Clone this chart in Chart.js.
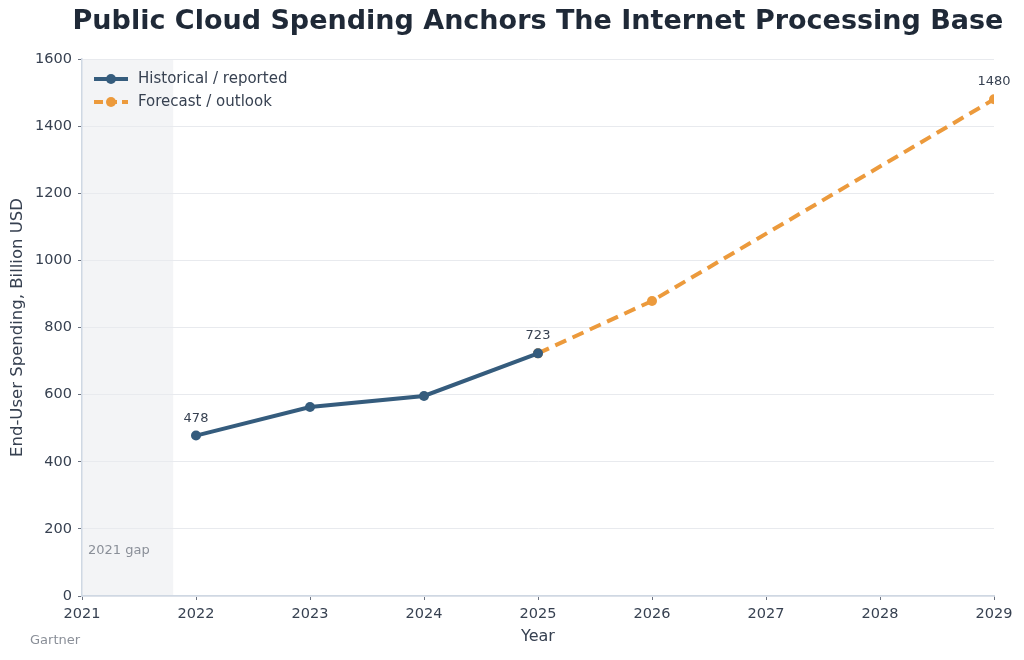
<!DOCTYPE html>
<html><head><meta charset="utf-8">
<script src="https://cdn.jsdelivr.net/npm/chart.js@4.4.1/dist/chart.umd.min.js"></script>
<style>html,body{margin:0;padding:0;background:#fff}#wrap{width:1024px;height:660px}</style>
</head><body><div id="wrap"><canvas id="c" width="1024" height="660"></canvas></div>
<script>
const histYears = [2022, 2023, 2024, 2025];
const histValues = [478, 563, 596, 723];
const fcYears = [2025, 2026, 2029];
const fcValues = [723, 879, 1480];
const labelledYears = [2022, 2025, 2029];
const xTicks = [2021, 2022, 2023, 2024, 2025, 2026, 2027, 2028, 2029];
const gapStart = 2021, gapEnd = 2021.8;
const FONT = "'DejaVu Sans', sans-serif";

const extras = {
  id: 'extras',
  beforeDraw(chart) {
    const {ctx, chartArea: a, scales: {x, y}} = chart;
    ctx.save();
    ctx.fillStyle = '#f3f4f6';
    const x0 = x.getPixelForValue(gapStart), x1 = x.getPixelForValue(gapEnd);
    ctx.fillRect(x0, a.top, x1 - x0, a.bottom - a.top);
    ctx.restore();
  },
  beforeDatasetsDraw(chart) {
    const {ctx, scales: {x, y}} = chart;
    ctx.save();
    ctx.fillStyle = '#8a8f98';
    ctx.font = '13px ' + FONT;
    ctx.textBaseline = 'middle';
    ctx.fillText('2021 gap', x.getPixelForValue(gapStart) + 6, y.getPixelForValue(135));
    ctx.restore();
  },
  afterDraw(chart) {
    const {ctx, chartArea: a, scales: {x, y}} = chart;
    ctx.save();
    ctx.fillStyle = '#1f2937';
    ctx.font = 'bold 27px ' + FONT;
    ctx.textAlign = 'center';
    ctx.textBaseline = 'middle';
    ctx.fillText('Public Cloud Spending Anchors The Internet Processing Base', 538, 22);
    ctx.font = '13px ' + FONT;
    ctx.fillStyle = '#374151';
    ctx.textBaseline = 'alphabetic';
    const all = histYears.map((yr, i) => [yr, histValues[i]]).concat(fcYears.map((yr, i) => [yr, fcValues[i]]));
    labelledYears.forEach(yr => {
      const p = all.find(d => d[0] === yr);
      ctx.fillText(String(p[1]), x.getPixelForValue(yr), y.getPixelForValue(p[1]) - 14);
    });
    ctx.textAlign = 'left';
    ctx.fillStyle = '#8a8f98';
    ctx.font = '13px ' + FONT;
    ctx.textBaseline = 'middle';
    ctx.fillText('Gartner', 30, 641);
    const lx = a.left + 12, ly = a.top + 20;
    const items = [
      {t: 'Historical / reported', c: '#355c7d', dash: []},
      {t: 'Forecast / outlook', c: '#ec9a3c', dash: [9, 5]}
    ];
    items.forEach((it, i) => {
      const yy = ly + i * 23;
      ctx.strokeStyle = it.c; ctx.lineWidth = 4; ctx.setLineDash(it.dash);
      ctx.beginPath(); ctx.moveTo(lx, yy); ctx.lineTo(lx + 34, yy); ctx.stroke();
      ctx.setLineDash([]);
      ctx.fillStyle = it.c;
      ctx.beginPath(); ctx.arc(lx + 17, yy, 5, 0, Math.PI * 2); ctx.fill();
      ctx.fillStyle = '#374151';
      ctx.font = '15px ' + FONT;
      ctx.textAlign = 'left';
      ctx.fillText(it.t, lx + 44, yy);
    });
    ctx.restore();
  }
};

new Chart(document.getElementById('c'), {
  type: 'line',
  data: {
    datasets: [
      {label: 'Historical / reported', data: histYears.map((yr, i) => ({x: yr, y: histValues[i]})),
       borderColor: '#355c7d', backgroundColor: '#355c7d', borderWidth: 4, pointRadius: 5, pointBorderWidth: 0, pointHoverRadius: 5, tension: 0},
      {label: 'Forecast / outlook', data: fcYears.map((yr, i) => ({x: yr, y: fcValues[i]})),
       borderColor: '#ec9a3c', backgroundColor: '#ec9a3c', borderWidth: 4, borderDash: [12, 7], pointRadius: 5, pointBorderWidth: 0, pointHoverRadius: 5, tension: 0}
    ]
  },
  options: {
    responsive: false, animation: false, devicePixelRatio: 1,
    layout: {padding: {top: 59, right: 30, left: 0, bottom: 0}},
    plugins: {legend: {display: false}, tooltip: {enabled: false}, title: {display: false}},
    scales: {
      x: {
        type: 'linear', min: 2021, max: 2029,
        afterBuildTicks: s => { s.ticks = xTicks.map(v => ({value: v})); },
        afterFit: s => { s.height = 64; },
        border: {color: '#cfd8e3', width: 1.5},
        grid: {drawOnChartArea: false, drawTicks: true, tickLength: 4, color: '#6b7280'},
        ticks: {color: '#374151', font: {family: FONT, size: 14.5}, padding: 6, callback: v => String(v), maxRotation: 0},
        title: {display: true, text: 'Year', color: '#374151', font: {family: FONT, size: 16}, padding: {top: 0, bottom: 14}}
      },
      y: {
        min: 0, max: 1600,
        afterFit: s => { s.width = 82; },
        border: {color: '#cfd8e3', width: 1.5},
        grid: {color: '#e8eaee', lineWidth: 1, drawTicks: true, tickLength: 4, tickColor: '#6b7280'},
        ticks: {stepSize: 200, color: '#374151', font: {family: FONT, size: 14.5}, padding: 6, callback: v => String(v)},
        title: {display: true, text: 'End-User Spending, Billion USD', color: '#374151', font: {family: FONT, size: 16.5}, padding: {top: 8, bottom: 4}}
      }
    }
  },
  plugins: [extras]
});
</script></body></html>
